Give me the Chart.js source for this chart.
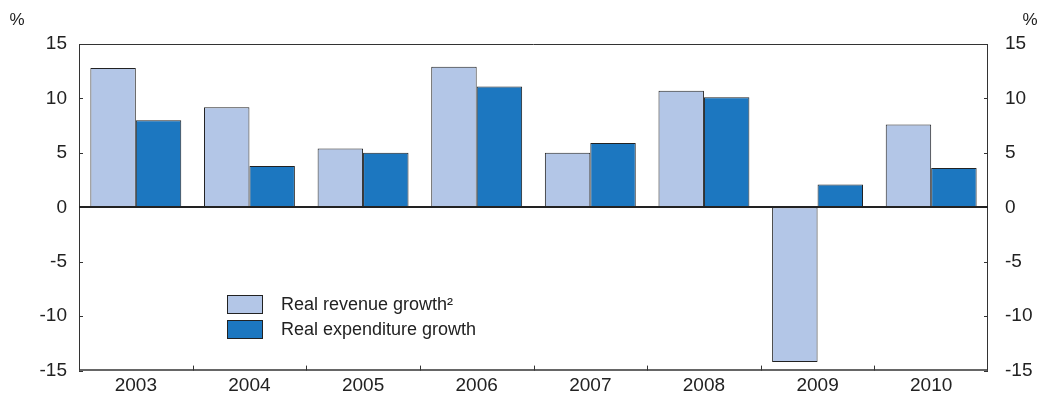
<!DOCTYPE html>
<html>
<head>
<meta charset="utf-8">
<script src="https://cdn.jsdelivr.net/npm/chart.js@4"></script>
<style>
  html, body { margin: 0; padding: 0; background: #fff; }
  #wrap { width: 1059px; height: 399px; position: relative; }
</style>
</head>
<body>
<div id="wrap"><canvas id="c"></canvas></div>
<script>
// data
const years = ['2003', '2004', '2005', '2006', '2007', '2008', '2009', '2010'];
const revenueGrowth = [12.8, 9.2, 5.4, 12.9, 5.0, 10.7, -14.2, 7.6];
const expenditureGrowth = [8.0, 3.8, 5.0, 11.1, 5.9, 10.1, 2.1, 3.6];
const yTicks = [-15, -10, -5, 0, 5, 10, 15];
const seriesNames = ['Real revenue growth²', 'Real expenditure growth'];

const FONT = '"Liberation Sans", Arial, sans-serif';
const lightBlue = '#b3c6e7';
const darkBlue = '#1c77c0';

// frame, inward ticks, zero line, legend and unit labels
const decor = {
  id: 'decor',
  afterDatasetsDraw(chart) {
    const ctx = chart.ctx;
    const a = chart.chartArea;
    const y = chart.scales.y;
    const x = chart.scales.x;
    ctx.save();
    ctx.strokeStyle = '#333';
    ctx.lineWidth = 1;
    ctx.beginPath();
    ctx.moveTo(a.left + 0.5, a.bottom);
    ctx.lineTo(a.left + 0.5, a.top + 0.5);
    ctx.lineTo(a.right - 0.5, a.top + 0.5);
    ctx.lineTo(a.right - 0.5, a.bottom);
    ctx.stroke();
    ctx.lineWidth = 1.5;
    ctx.beginPath();
    ctx.moveTo(a.left, a.bottom - 0.5);
    ctx.lineTo(a.right, a.bottom - 0.5);
    ctx.stroke();
    // y ticks both sides
    ctx.lineWidth = 1;
    ctx.beginPath();
    yTicks.forEach(v => {
      const py = Math.round(y.getPixelForValue(v)) + 0.5;
      ctx.moveTo(a.left, py); ctx.lineTo(a.left + 4, py);
      ctx.moveTo(a.right, py); ctx.lineTo(a.right - 4, py);
    });
    // category boundary ticks
    for (let i = 1; i < years.length; i++) {
      const px = Math.round((x.getPixelForValue(i - 1) + x.getPixelForValue(i)) / 2) + 0.5;
      ctx.moveTo(px, a.bottom); ctx.lineTo(px, a.bottom - 5);
    }
    ctx.stroke();
    // zero line
    ctx.strokeStyle = '#222';
    ctx.lineWidth = 2;
    const z = Math.round(y.getPixelForValue(0));
    ctx.beginPath();
    ctx.moveTo(a.left, z); ctx.lineTo(a.right, z);
    ctx.stroke();
    // legend
    const colors = [lightBlue, darkBlue];
    ctx.font = '18px ' + FONT;
    ctx.textBaseline = 'middle';
    seriesNames.forEach((name, i) => {
      const by = 295 + i * 25;
      ctx.fillStyle = colors[i];
      ctx.fillRect(227, by, 36, 19);
      ctx.strokeStyle = '#222';
      ctx.lineWidth = 1;
      ctx.strokeRect(227.5, by + 0.5, 35, 18);
      ctx.fillStyle = '#222';
      ctx.fillText(name, 281, by + 10);
    });
    // unit labels
    ctx.font = '17px ' + FONT;
    ctx.textAlign = 'center';
    ctx.fillText('%', 17, 20);
    ctx.fillText('%', 1030, 20);
    ctx.restore();
  }
};

new Chart(document.getElementById('c'), {
  type: 'bar',
  data: {
    labels: years,
    datasets: [
      {
        label: seriesNames[0],
        data: revenueGrowth,
        backgroundColor: lightBlue,
        borderColor: '#222',
        borderWidth: 1,
        borderSkipped: false,
      },
      {
        label: seriesNames[1],
        data: expenditureGrowth,
        backgroundColor: darkBlue,
        borderColor: '#222',
        borderWidth: 1,
        borderSkipped: false,
      },
    ],
  },
  options: {
    responsive: true,
    maintainAspectRatio: false,
    animation: false,
    layout: { padding: { top: 44, left: 0, right: 0, bottom: 0 } },
    datasets: { bar: { barPercentage: 1, categoryPercentage: 0.8 } },
    plugins: { legend: { display: false }, tooltip: { enabled: false } },
    scales: {
      x: {
        grid: { display: false, drawTicks: false },
        border: { display: false },
        ticks: { color: '#222', font: { family: FONT, size: 19 }, padding: 4, maxRotation: 0 },
        afterFit(s) { s.height = 28; },
      },
      y: {
        position: 'left',
        min: -15, max: 15,
        grid: { display: false, drawTicks: false },
        border: { display: false },
        ticks: { stepSize: 5, color: '#222', font: { family: FONT, size: 19 }, padding: 12 },
        afterFit(s) { s.width = 79; },
      },
      y2: {
        position: 'right',
        min: -15, max: 15,
        grid: { display: false, drawTicks: false },
        border: { display: false },
        ticks: { stepSize: 5, color: '#222', font: { family: FONT, size: 19 }, padding: 17 },
        afterFit(s) { s.width = 71; },
      },
    },
  },
  plugins: [decor],
});
</script>
</body>
</html>
